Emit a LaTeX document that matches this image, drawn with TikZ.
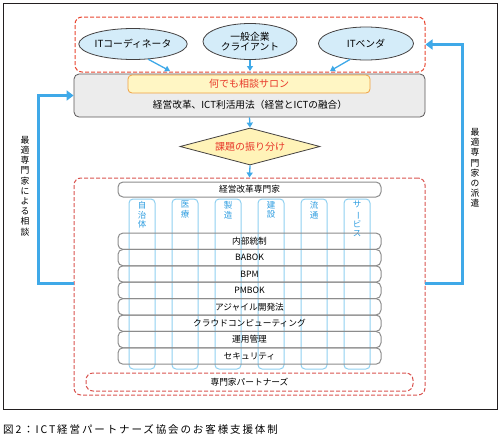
\documentclass[tikz,border=0pt]{standalone}
\usepackage{fontspec}
\setmainfont{Noto Sans CJK JP}
\newfontfamily\capfont[LetterSpace=18]{Noto Sans CJK JP}
\usetikzlibrary{shapes.geometric,arrows.meta}
\definecolor{frame}{HTML}{231F20}
\definecolor{redA}{HTML}{E8452F}
\definecolor{redB}{HTML}{D9534F}
\definecolor{redtext}{HTML}{E8382A}
\definecolor{bluearr}{HTML}{3FA9E8}
\definecolor{bluecol}{HTML}{8FD0F0}
\definecolor{bluetxt}{HTML}{2E9DE0}
\definecolor{ellfill}{HTML}{D4ECF9}
\definecolor{yelfill}{HTML}{FFF6C4}
\definecolor{yelline}{HTML}{F0A040}
\definecolor{dimfill}{HTML}{FFF3B8}
\definecolor{greyfill}{HTML}{ECECEC}
\definecolor{greyline}{HTML}{8C8C8C}
\tikzset{
  reddash/.style={draw=#1, dash pattern=on 4pt off 2pt, line width=1pt, rounded corners=7pt},
  ell/.style={ellipse, draw=frame!85, fill=ellfill, line width=0.8pt, inner sep=0pt, align=center, font=\fontsize{9.8}{11}\selectfont},
  smallarr/.style={draw=bluearr, line width=1.3pt, -{Triangle[length=5pt,width=6pt]}},
  bigarr/.style={draw=bluearr, line width=3pt, -{Triangle[length=7pt,width=10pt]}},
  colbox/.style={draw=bluecol, line width=1pt, rounded corners=4pt, minimum width=26pt, minimum height=170pt, inner sep=0pt},
  coltxt/.style={text=bluetxt, align=center, inner sep=0pt, font=\fontsize{8.5}{9.7}\selectfont},
  rowbox/.style={draw=greyline, line width=1pt, rounded corners=5pt, minimum width=263pt, minimum height=16.4pt, inner sep=0pt, font=\fontsize{8.7}{10}\selectfont},
  vlabel/.style={align=center, inner sep=0pt, font=\fontsize{8.8}{10.2}\selectfont},
}
\begin{document}
\begin{tikzpicture}[x=1pt,y=-1pt]
\useasboundingbox (0,0) rectangle (502,439);
\draw[frame, line width=1pt] (3,3) rectangle (497,409);

% top group
\node[reddash=redA, minimum width=350pt, minimum height=55pt, inner sep=0pt] (topbox) at (250,44.5) {};
\node[ell, minimum width=97pt, minimum height=31pt] (itc) at (133,44) {ITコーディネータ};
\node[ell, minimum width=94pt, minimum height=36pt] (client) at (250,41.5) {一般企業\\[-1pt]クライアント};
\node[ell, minimum width=95pt, minimum height=33pt] (vendor) at (366,43.5) {ITベンダ};
\coordinate (a1) at (170,71);
\coordinate (a2) at (250,71);
\coordinate (a3) at (330,71);
\draw[smallarr] (itc.-45) -- (a1);
\draw[smallarr] (client.south) -- (a2);
\draw[smallarr] (vendor.-135) -- (a3);

% salon box
\node[draw=frame!75, fill=greyfill, line width=0.8pt, rounded corners=5pt, minimum width=351pt, minimum height=43pt, inner sep=0pt] (salonbox) at (249.5,95.5) {};
\node[draw=yelline, fill=yelfill, line width=0.8pt, rounded corners=4pt, minimum width=242pt, minimum height=18pt, inner sep=0pt, text=redtext, font=\fontsize{10}{12}\selectfont] (salon) at (249,84) {何でも相談サロン};
\node[inner sep=0pt, font=\fontsize{9.7}{11}\selectfont] (method) at (250,104.5) {経営改革、ICT利活用法（経営とICTの融合）};

% diamond
\node[diamond, draw=frame!85, fill=dimfill, line width=0.8pt, aspect=3.8, minimum width=140pt, minimum height=37pt, inner sep=0pt, text=redtext, font=\fontsize{10}{12}\selectfont] (assign) at (250,146.5) {課題の振り分け};
\draw[smallarr] (salonbox.south) -- (assign.north);

% experts group
\node[reddash=redB, minimum width=351pt, minimum height=217pt, inner sep=0pt] (experts) at (249.5,286.5) {};
\draw[smallarr] (assign.south) -- (experts.north);

\node[rowbox, minimum height=15pt] (mgmt) at (249.5,189.5) {経営改革専門家};

\foreach \x/\n/\t in {142/c1/{自\\治\\体},185/c2/{医\\療},228/c3/{製\\造},271/c4/{建\\設},314/c5/{流\\通},357/c6/{サ\\\rotatebox[origin=c]{-90}{ー}\\ビ\\ス}}{
  \node[colbox] (\n) at (\x,284) {};
  \node[coltxt, anchor=north] (\n t) at (\x,201) {\t};
}

\foreach \i/\n/\t in {0/r1/内部統制,1/r2/BABOK,2/r3/BPM,3/r4/PMBOK,4/r5/アジャイル開発法,5/r6/クラウドコンピューティング,6/r7/運用管理,7/r8/セキュリティ}{
  \node[rowbox] (\n) at (249.5,{241.2+16.4*\i}) {\t};
}

\node[reddash=redB, minimum width=327pt, minimum height=18pt, inner sep=0pt, font=\fontsize{8.7}{10}\selectfont] (partners) at (249.5,382) {専門家パートナーズ};

% feedback arrows
\coordinate (ls) at (74,283);
\coordinate (lc) at (38,283);
\draw[bigarr] (ls) -- (lc) |- (salonbox.west);
\coordinate (rs) at (425,283);
\coordinate (rc) at (462,283);
\draw[bigarr] (rs) -- (rc) |- (topbox.east);

\node[vlabel] (lbl) at (25,186) {最\\適\\専\\門\\家\\に\\よ\\る\\相\\談};
\node[vlabel] (rbl) at (475,168) {最\\適\\専\\門\\家\\の\\派\\遣};

% caption
\node[anchor=west, inner sep=0pt, font=\capfont\fontsize{10.5}{12}\selectfont] (cap) at (3,429) {図2：ICT経営パートナーズ協会のお客様支援体制};
\end{tikzpicture}
\end{document}
